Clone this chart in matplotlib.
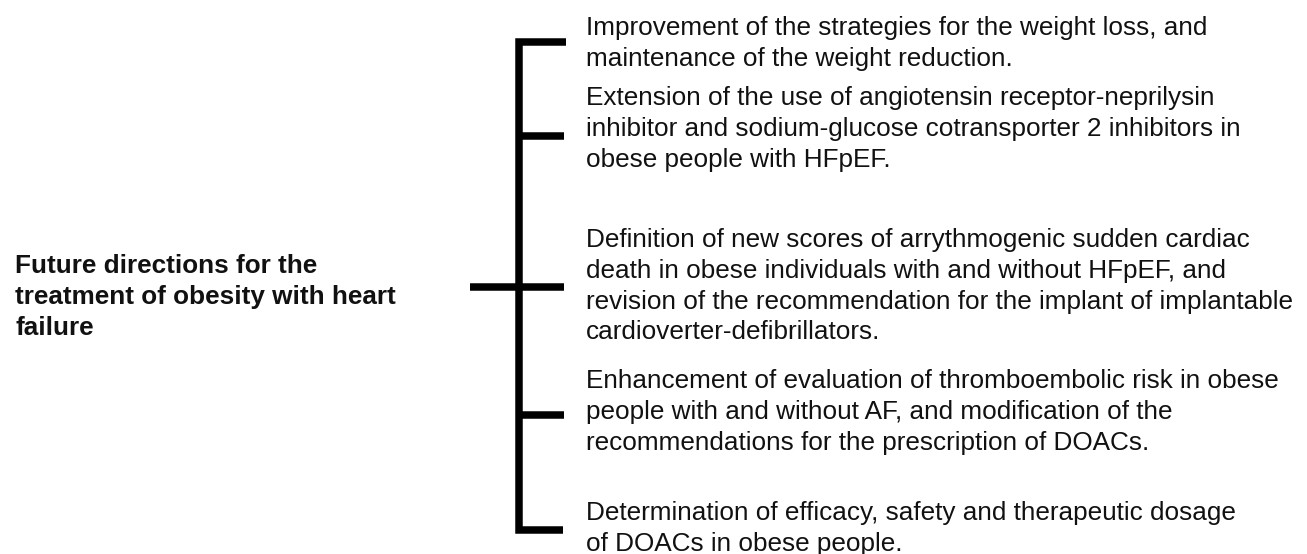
import matplotlib.pyplot as plt

# -----------------------------
# Text content
# -----------------------------
root_label = ["Future directions for the",
              "treatment of obesity with heart",
              "failure"]

branch_1 = ["Improvement of the strategies for the weight loss, and",
            "maintenance of the weight reduction."]
branch_2 = ["Extension of the use of angiotensin receptor-neprilysin",
            "inhibitor and sodium-glucose cotransporter 2 inhibitors in",
            "obese people with HFpEF."]
branch_3 = ["Definition of new scores of arrythmogenic sudden cardiac",
            "death in obese individuals with and without HFpEF, and",
            "revision of the recommendation for the implant of implantable",
            "cardioverter-defibrillators."]
branch_4 = ["Enhancement of evaluation of thromboembolic risk in obese",
            "people with and without AF, and modification of the",
            "recommendations for the prescription of DOACs."]
branch_5 = ["Determination of efficacy, safety and therapeutic dosage",
            "of DOACs in obese people."]
branches = [branch_1, branch_2, branch_3, branch_4, branch_5]

# -----------------------------
# Layout (pixel coordinates)
# -----------------------------
W, H = 1307, 554
FS = 18.8
LINE_GAP = 30.8
branch_baselines = [35, 105, 247, 388, 520]
root_baseline = 273
text_x = 586
root_x = 15

bracket_x = 519
tick_ys = [41.5, 136, 287, 415, 530]
tick_right = 566
root_tick_left = 470
LW = 5.4

fig = plt.figure(figsize=(W / 100, H / 100), dpi=100)
ax = fig.add_axes([0, 0, 1, 1])
ax.set_xlim(0, W)
ax.set_ylim(H, 0)
ax.axis("off")

# bracket: top tick, vertical spine, bottom tick as one path
ax.plot([tick_right, bracket_x, bracket_x, tick_right - 3],
        [tick_ys[0], tick_ys[0], tick_ys[-1], tick_ys[-1]],
        color="black", lw=LW, solid_joinstyle="miter", solid_capstyle="butt")
for y in tick_ys[1:-1]:
    ax.plot([bracket_x, tick_right - 2], [y, y], color="black", lw=LW,
            solid_capstyle="butt")
ax.plot([root_tick_left, bracket_x], [tick_ys[2], tick_ys[2]], color="black",
        lw=LW, solid_capstyle="butt")

# root label
for i, line in enumerate(root_label):
    ax.text(root_x, root_baseline + i * LINE_GAP, line, fontsize=FS,
            fontweight="bold", family="Liberation Sans", va="baseline",
            ha="left", color="#111111")

# branch texts
for base, lines in zip(branch_baselines, branches):
    for i, line in enumerate(lines):
        ax.text(text_x, base + i * LINE_GAP, line, fontsize=FS,
                family="Liberation Sans", va="baseline", ha="left",
                color="#111111")

fig.savefig("out.png", dpi=100)
